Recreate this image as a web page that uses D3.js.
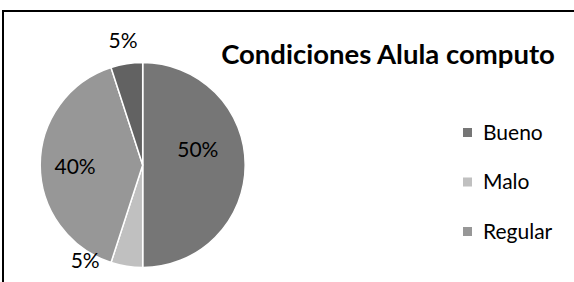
<!DOCTYPE html>
<html><head><meta charset="utf-8">
<script src="https://cdn.jsdelivr.net/npm/d3@7"></script>
<style>html,body{margin:0;padding:0;background:#fff;overflow:hidden}</style>
</head><body>
<svg id="c" width="574" height="282"></svg>
<script>
const categories = ["Bueno", "Malo", "Regular", ""];
const values = [50, 5, 40, 5];
const labels = ["50%", "5%", "40%", "5%"];
const legendItems = ["Bueno", "Malo", "Regular"];
const title = "Condiciones Alula computo";

// style / layout
const colors = ["#767676", "#c0c0c0", "#979797", "#626262"];
// label placement (angle offset in degrees, radius as fraction of pie radius)
const labelLayout = [[-16, 0.56], [22, 1.09], [-1, 0.66], [0, 1.23]];
const FONT = "Lato, 'Open Sans', sans-serif";

const svg = d3.select("#c");
svg.append("rect").attr("x", 3).attr("y", 11).attr("width", 700).attr("height", 400)
  .attr("fill", "#fff").attr("stroke", "#000").attr("stroke-width", 2);

const cx = 142.7, cy = 165, R = 102.5;
const pie = d3.pie().sort(null).value(d => d)(values);
const arc = d3.arc().innerRadius(0).outerRadius(R);
const g = svg.append("g").attr("transform", `translate(${cx},${cy})`);
g.selectAll("path").data(pie).join("path")
  .attr("d", arc)
  .attr("fill", (d, i) => colors[i])
  .attr("stroke", "#fff").attr("stroke-width", 1.5);

g.selectAll("text").data(pie).join("text")
  .each(function(d, i) {
    const [off, fr] = labelLayout[i];
    const a = (d.startAngle + d.endAngle) / 2 + off * Math.PI / 180;
    const r = R * fr;
    d3.select(this).attr("x", Math.sin(a) * r).attr("y", -Math.cos(a) * r);
  })
  .attr("text-anchor", "middle").attr("dy", "0.36em")
  .style("font-family", FONT).style("font-size", "21px")
  .attr("fill", "#000")
  .text((d, i) => labels[i]);

svg.append("text").attr("x", 388).attr("y", 64).attr("text-anchor", "middle")
  .style("font-family", FONT).style("font-size", "27.5px")
  .style("font-weight", "bold").text(title);

const ly = d3.scalePoint().domain(legendItems).range([132.5, 231.5]);
const lg = svg.append("g");
legendItems.forEach((name, i) => {
  lg.append("rect").attr("x", 463).attr("y", ly(name) - 4.5).attr("width", 9).attr("height", 9)
    .attr("fill", colors[categories.indexOf(name)]);
  lg.append("text").attr("x", 483).attr("y", ly(name) + 7)
    .style("font-family", FONT).style("font-size", "21px")
    .text(name);
});
</script>
</body></html>
